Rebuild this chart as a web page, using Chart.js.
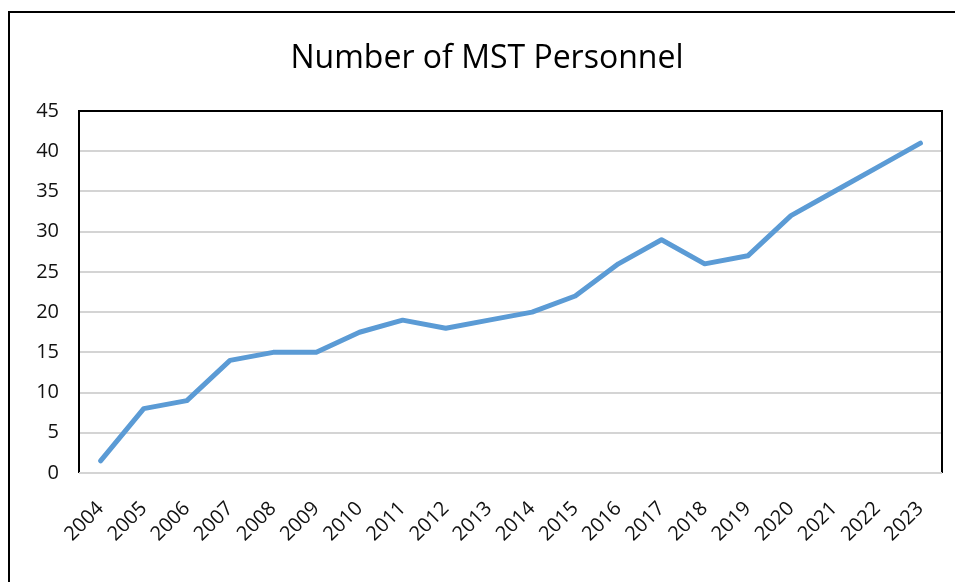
<!DOCTYPE html>
<html>
<head>
<meta charset="utf-8">
<script src="https://cdn.jsdelivr.net/npm/chart.js@4"></script>
<style>
  html, body { margin: 0; padding: 0; background: #fff; }
  #wrap { width: 955px; height: 582px; position: relative; }
</style>
</head>
<body>
<div id="wrap"><canvas id="c" width="955" height="582"></canvas></div>
<script>
const titleText = "Number of MST Personnel";
const years = ["2004","2005","2006","2007","2008","2009","2010","2011","2012","2013","2014","2015","2016","2017","2018","2019","2020","2021","2022","2023"];
const personnel = [1.5, 8, 9, 14, 15, 15, 17.5, 19, 18, 19, 20, 22, 26, 29, 26, 27, 32, 35, 38, 41];
const yTicks = [0, 5, 10, 15, 20, 25, 30, 35, 40, 45];

const frame = {
  id: 'frame',
  beforeDraw(chart) {
    const ctx = chart.ctx;
    ctx.save();
    ctx.fillStyle = '#fff';
    ctx.fillRect(0, 0, chart.width, chart.height);
    ctx.strokeStyle = '#000';
    ctx.lineWidth = 2;
    ctx.beginPath();
    ctx.moveTo(9, chart.height);
    ctx.lineTo(9, 12);
    ctx.lineTo(chart.width, 12);
    ctx.stroke();
    ctx.restore();
  },
  beforeDatasetsDraw(chart) {
    const a = chart.chartArea, ctx = chart.ctx;
    ctx.save();
    ctx.strokeStyle = '#000';
    ctx.lineWidth = 2;
    ctx.beginPath();
    ctx.moveTo(a.left, a.bottom);
    ctx.lineTo(a.left, a.top);
    ctx.lineTo(a.right, a.top);
    ctx.lineTo(a.right, a.bottom);
    ctx.stroke();
    ctx.strokeStyle = '#d4d4d4';
    ctx.lineWidth = 2;
    ctx.beginPath();
    ctx.moveTo(a.left, a.bottom);
    ctx.lineTo(a.right, a.bottom);
    ctx.stroke();
    ctx.restore();
  }
};

new Chart(document.getElementById('c'), {
  type: 'line',
  data: {
    labels: years,
    datasets: [{
      label: 'MST Personnel',
      data: personnel,
      borderColor: '#5B9BD5',
      backgroundColor: '#5B9BD5',
      borderWidth: 5,
      borderCapStyle: 'round',
      borderJoinStyle: 'round',
      pointRadius: 0,
      tension: 0
    }]
  },
  options: {
    responsive: false,
    animation: false,
    layout: { padding: { left: 32, right: 13, top: 0, bottom: 0 } },
    plugins: {
      legend: { display: false },
      tooltip: { enabled: false },
      title: {
        display: true,
        text: titleText,
        color: '#000',
        font: { family: 'Open Sans', size: 32, weight: 'normal', lineHeight: 1.2 },
        padding: { top: 40, bottom: 32.6 }
      }
    },
    scales: {
      x: {
        offset: true,
        grid: { display: false, drawTicks: false },
        border: { display: false },
        ticks: {
          color: '#111',
          font: { family: 'Open Sans', size: 20 },
          maxRotation: 45,
          minRotation: 45,
          padding: 24,
          autoSkip: false
        },
        afterFit(s) { s.height = 109; s.paddingLeft = 0; s.paddingRight = 0; }
      },
      y: {
        min: 0,
        max: 45,
        afterBuildTicks(s) { s.ticks = yTicks.map(v => ({ value: v })); },
        grid: { color: '#d4d4d4', lineWidth: 2, drawTicks: false },
        border: { display: false },
        ticks: {
          color: '#111',
          font: { family: 'Open Sans', size: 20 },
          padding: 20
        },
        afterFit(s) { s.width = 47; s.paddingTop = 0; s.paddingBottom = 0; }
      }
    }
  },
  plugins: [frame]
});
</script>
</body>
</html>
